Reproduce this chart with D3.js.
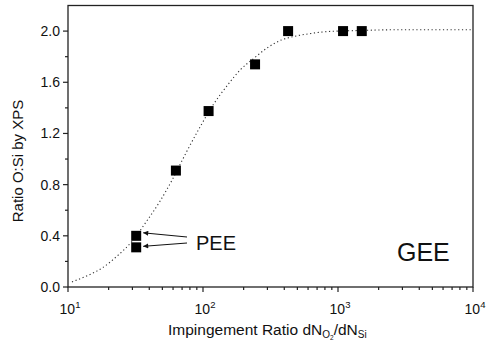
<!DOCTYPE html>
<html>
<head>
<meta charset="utf-8">
<script src="https://cdn.jsdelivr.net/npm/d3@7"></script>
<style>
  body { margin: 0; background: #fff; }
  svg { font-family: "Liberation Sans", Arial, sans-serif; }
</style>
</head>
<body>
<svg id="chart" width="489" height="344"></svg>
<script>
// measured points (impingement ratio, O:Si ratio)
const ratioX = [32, 32, 63, 110, 243, 427, 1090, 1500];
const ratioY = [0.40, 0.31, 0.91, 1.375, 1.74, 2.0, 2.0, 2.0];

// dotted fit curve
const fitX = [10.7, 14, 18, 23, 30, 38, 48, 60, 75, 95, 120, 150, 190, 240, 300, 380, 480, 620, 800, 1000, 1500, 2500, 5000, 10000];
const fitY = [0.04, 0.09, 0.15, 0.24, 0.36, 0.51, 0.67, 0.85, 1.05, 1.25, 1.43, 1.57, 1.70, 1.79, 1.87, 1.93, 1.96, 1.98, 1.995, 2.0, 2.005, 2.01, 2.01, 2.01];

const yMajor = [0, 0.4, 0.8, 1.2, 1.6, 2.0];
const yMinor = [0.2, 0.6, 1.0, 1.4, 1.8];
const xDecades = [1, 2, 3, 4];

const margin = {top: 5.5, right: 16, bottom: 57, left: 68};
const width = 489, height = 344;

const svg = d3.select("#chart");

const x = d3.scaleLog()
    .domain([10, 1e4])
    .range([margin.left, width - margin.right]);
const y = d3.scaleLinear()
    .domain([0, 2.2])
    .range([height - margin.bottom, margin.top]);

const x0 = margin.left, x1 = width - margin.right;
const y0 = height - margin.bottom, y1 = margin.top;

// frame
svg.append("rect")
    .attr("x", x0).attr("y", y1)
    .attr("width", x1 - x0).attr("height", y0 - y1)
    .attr("fill", "none")
    .attr("stroke", "#222")
    .attr("stroke-width", 1.3);

// y ticks
svg.selectAll(".ymaj").data(yMajor).join("line")
    .attr("x1", x0 - 5).attr("x2", x0)
    .attr("y1", d => y(d)).attr("y2", d => y(d))
    .attr("stroke", "#222").attr("stroke-width", 1.2);
svg.selectAll(".ymin").data(yMinor).join("line")
    .attr("x1", x0 - 3).attr("x2", x0)
    .attr("y1", d => y(d)).attr("y2", d => y(d))
    .attr("stroke", "#222").attr("stroke-width", 1.2);
svg.selectAll(".ylab").data(yMajor).join("text")
    .attr("x", x0 - 8)
    .attr("y", d => y(d) + 5)
    .attr("text-anchor", "end")
    .attr("font-size", 14)
    .attr("fill", "#111")
    .text(d => d.toFixed(1));

// x ticks
const minorX = [];
xDecades.slice(0, -1).forEach(p => {
    for (let k = 2; k <= 9; k++) minorX.push(k * Math.pow(10, p));
});
svg.selectAll(".xmin").data(minorX).join("line")
    .attr("x1", d => x(d)).attr("x2", d => x(d))
    .attr("y1", y0).attr("y2", y0 + 3)
    .attr("stroke", "#222").attr("stroke-width", 1.2);
svg.selectAll(".xmaj").data(xDecades).join("line")
    .attr("x1", d => x(Math.pow(10, d))).attr("x2", d => x(Math.pow(10, d)))
    .attr("y1", y0).attr("y2", y0 + 5)
    .attr("stroke", "#222").attr("stroke-width", 1.2);
const xl = svg.selectAll(".xlab").data(xDecades).join("text")
    .attr("x", d => x(Math.pow(10, d)) + 2)
    .attr("y", y0 + 27)
    .attr("text-anchor", "middle")
    .attr("font-size", 14)
    .attr("fill", "#111");
xl.append("tspan").text("10");
xl.append("tspan").attr("font-size", 9.5).attr("dy", -6).text(d => d);

// axis titles
svg.append("text")
    .attr("transform", `translate(23, 161) rotate(-90)`)
    .attr("text-anchor", "middle")
    .attr("font-size", 15)
    .attr("fill", "#111")
    .text("Ratio O:Si by XPS");

const xt = svg.append("text")
    .attr("x", 168)
    .attr("y", 335)
    .attr("font-size", 15.5)
    .attr("fill", "#111");
xt.append("tspan").text("Impingement Ratio dN");
xt.append("tspan").attr("font-size", 10).attr("dy", 3).text("O");
xt.append("tspan").attr("font-size", 6.5).attr("dy", 2).text("2");
xt.append("tspan").attr("dy", -5).text("/dN");
xt.append("tspan").attr("font-size", 10).attr("dy", 3).text("Si");

// fit curve
const fit = fitX.map((d, i) => [d, fitY[i]]);
svg.append("path")
    .datum(fit)
    .attr("fill", "none")
    .attr("stroke", "#333")
    .attr("stroke-width", 1.1)
    .attr("stroke-dasharray", "1.2,2.6")
    .attr("d", d3.line().curve(d3.curveMonotoneX).x(d => x(d[0])).y(d => y(d[1])));

// points
const pts = ratioX.map((d, i) => [d, ratioY[i]]);
const s = 10;
svg.selectAll(".pt").data(pts).join("rect")
    .attr("x", d => x(d[0]) - s / 2)
    .attr("y", d => y(d[1]) - s / 2)
    .attr("width", s).attr("height", s)
    .attr("fill", "#000");

// PEE annotation
svg.append("defs").append("marker")
    .attr("id", "ah")
    .attr("viewBox", "0 0 10 10")
    .attr("refX", 10).attr("refY", 5)
    .attr("markerWidth", 7).attr("markerHeight", 5)
    .attr("orient", "auto")
    .append("path").attr("d", "M0,0 L10,5 L0,10 Z").attr("fill", "#111");

const arrowTargets = pts.slice(0, 2);
svg.selectAll(".arr").data(arrowTargets).join("line")
    .attr("x1", 187)
    .attr("y1", (d, i) => i === 0 ? 237 : 243)
    .attr("x2", d => x(d[0]) + s / 2 + 2)
    .attr("y2", (d, i) => y(d[1]) + (i === 0 ? -3 : -1))
    .attr("stroke", "#111")
    .attr("stroke-width", 1)
    .attr("marker-end", "url(#ah)");

svg.append("text")
    .attr("x", 196).attr("y", 250)
    .attr("font-size", 20)
    .attr("fill", "#111")
    .text("PEE");

svg.append("text")
    .attr("x", 397).attr("y", 261)
    .attr("font-size", 25)
    .attr("fill", "#111")
    .text("GEE");
</script>
</body>
</html>
